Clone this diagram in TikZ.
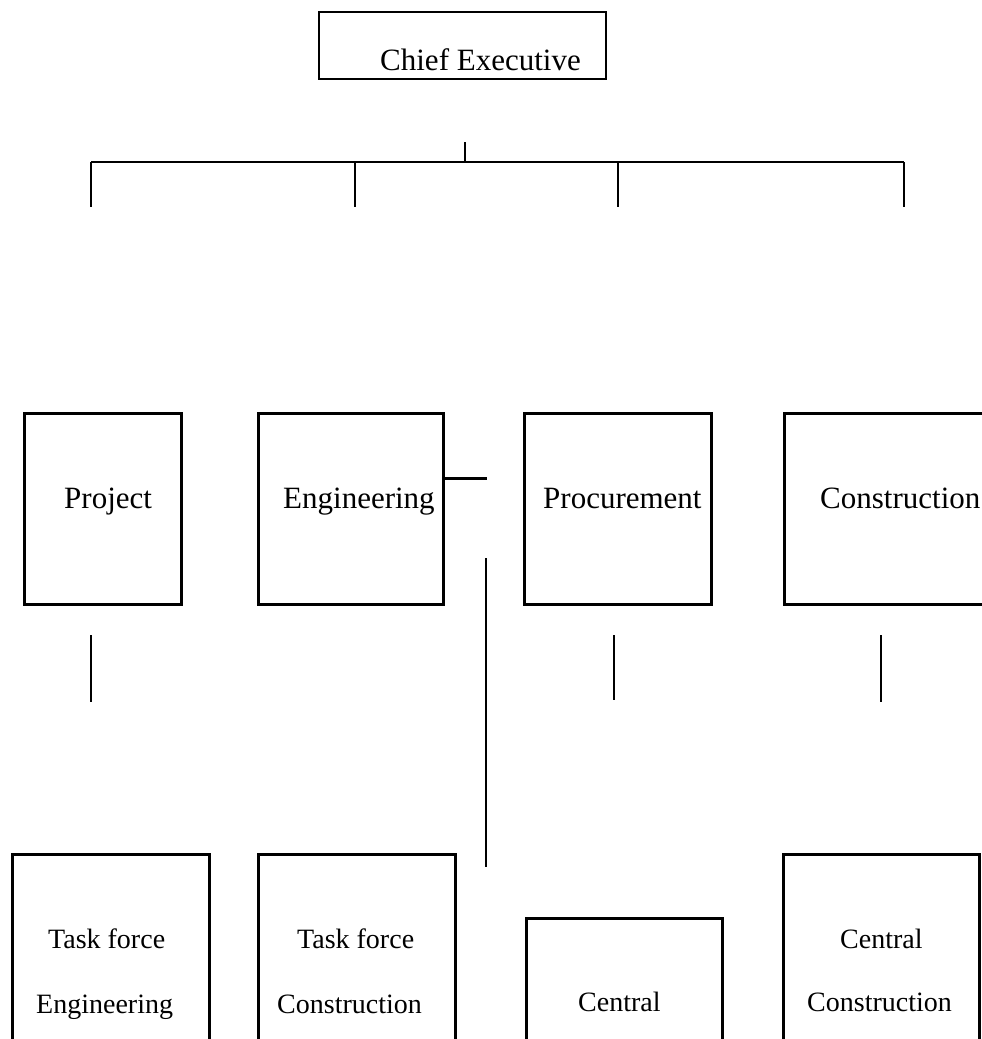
\documentclass[tikz,border=0pt]{standalone}
\usepackage{fontspec}
\setmainfont{Liberation Serif}
\begin{document}
\begin{tikzpicture}[x=1pt,y=-1pt,
  box/.style={draw=black, line width=3pt, rectangle, inner sep=0pt, outer sep=0pt},
  topbox/.style={draw=black, line width=2pt, rectangle, inner sep=0pt, outer sep=0pt},
  big/.style={inner sep=0pt, anchor=base west, font=\fontsize{31}{37}\selectfont},
  small/.style={inner sep=0pt, anchor=base west, font=\fontsize{28}{34}\selectfont},
  bus/.style={line width=2pt},
  thin/.style={line width=1.5pt},
  thick/.style={line width=3pt}]
\useasboundingbox (0,0) rectangle (982,1039);
\clip (0,0) rectangle (982,1039);
% top box
\node[topbox, minimum width=287pt, minimum height=67pt] (ceo) at (462.5,45.5) {};
\node[big] (ceot) at (380,70) {Chief Executive};
% bus
\coordinate (tickTop) at (465,142);
\coordinate (tickBot) at (465,162);
\coordinate (busL) at (91,162);
\coordinate (busR) at (904,162);
\coordinate (d1t) at (91,162);  \coordinate (d1b) at (91,207);
\coordinate (d2t) at (355,162); \coordinate (d2b) at (355,207);
\coordinate (d3t) at (618,162); \coordinate (d3b) at (618,207);
\coordinate (d4t) at (904,162); \coordinate (d4b) at (904,207);
\draw[thin] (tickTop) -- (tickBot);
\draw[bus] (busL) -- (busR);
\draw[bus] (d1t) -- (d1b);
\draw[bus] (d2t) -- (d2b);
\draw[bus] (d3t) -- (d3b);
\draw[bus] (d4t) -- (d4b);
% second row
\node[box, minimum width=157pt, minimum height=191pt] (proj) at (102.5,508.5) {};
\node[box, minimum width=185pt, minimum height=191pt] (eng) at (350.5,508.5) {};
\node[box, minimum width=187pt, minimum height=191pt] (proc) at (617.5,508.5) {};
\node[box, minimum width=220pt, minimum height=191pt] (cons) at (894,508.5) {};
\node[big] (projt) at (64,508) {Project};
\node[big] (engt) at (283,508) {Engineering};
\node[big] (proct) at (543,508) {Procurement};
\node[big] (const) at (820,508) {Construction};
% engineering stub and long vertical
\coordinate (stubEnd) at (487,478);
\draw[thick] (eng.east |- stubEnd) -- (stubEnd);
\coordinate (vT) at (486,558);
\coordinate (vB) at (486,867);
\draw[thin] (vT) -- (vB);
% short verticals
\coordinate (s1t) at (91,635);  \coordinate (s1b) at (91,702);
\coordinate (s3t) at (614,635); \coordinate (s3b) at (614,700);
\coordinate (s4t) at (881,635); \coordinate (s4b) at (881,702);
\draw[thin] (s1t) -- (s1b);
\draw[thin] (s3t) -- (s3b);
\draw[thin] (s4t) -- (s4b);
% bottom row
\node[box, minimum width=197pt, minimum height=220pt] (tfe) at (110.5,964) {};
\node[box, minimum width=197pt, minimum height=220pt] (tfc) at (356.5,964) {};
\node[box, minimum width=196pt, minimum height=160pt] (cen) at (624,998) {};
\node[box, minimum width=196pt, minimum height=220pt] (cc) at (881,964) {};
\node[small] (tfe1) at (48,948) {Task force};
\node[small] (tfe2) at (36,1013) {Engineering};
\node[small] (tfc1) at (297,948) {Task force};
\node[small] (tfc2) at (277,1013) {Construction};
\node[small] (cent) at (578,1011) {Central};
\node[small] (cc1) at (840,948) {Central};
\node[small] (cc2) at (807,1011) {Construction};
\end{tikzpicture}
\end{document}
